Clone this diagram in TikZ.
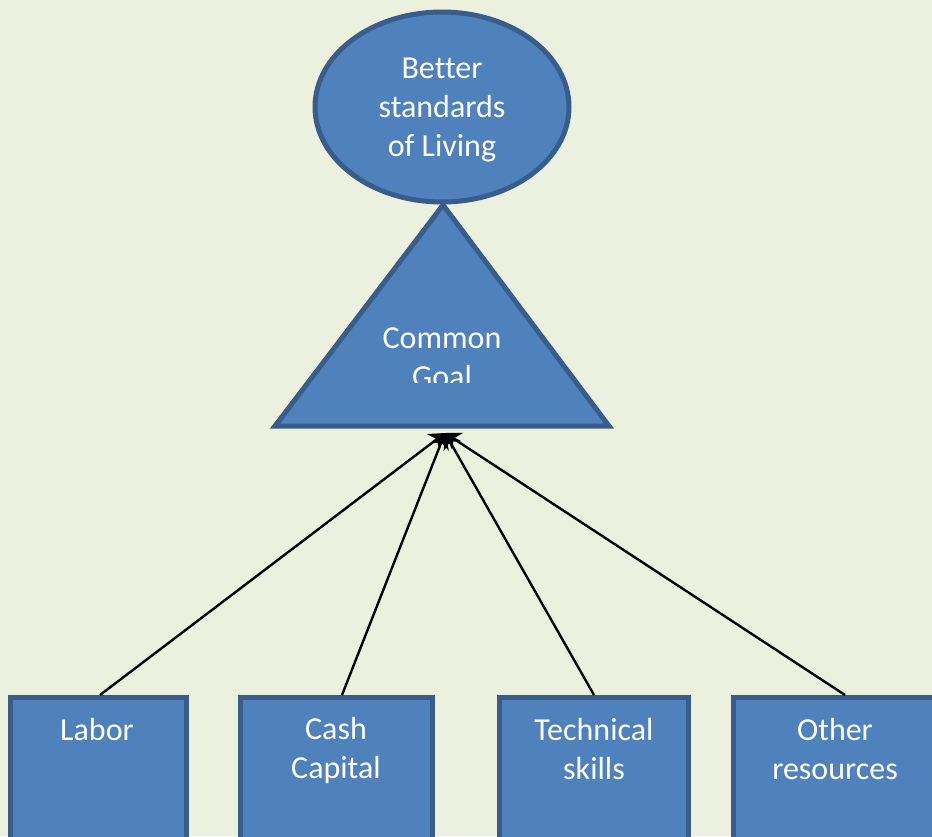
\documentclass[tikz,border=0pt]{standalone}
\usepackage{fontspec}
\setmainfont{Carlito}[Ligatures={NoCommon}]
\usetikzlibrary{arrows.meta}
\definecolor{bg}{HTML}{EBF1DE}
\definecolor{fillblue}{HTML}{4F81BD}
\definecolor{edgeblue}{HTML}{385D8A}
\begin{document}
\begin{tikzpicture}[x=1pt,y=-1pt,
  shapestyle/.style={fill=fillblue,draw=edgeblue,line width=5pt},
  boxstyle/.style={shapestyle,rectangle,inner sep=0pt,outer sep=0pt,anchor=north west},
  txt/.style={text=white,font=\fontsize{32}{39}\selectfont,align=center,inner sep=0pt},
  conn/.style={line width=2.4pt,-{Stealth[length=15pt,width=20pt]}}]
\path[use as bounding box] (0,0) rectangle (932,836);
\clip (0,0) rectangle (932,836);
\fill[bg] (0,0) rectangle (932,836);
% top ellipse
\draw[shapestyle] (442,107) ellipse [x radius=127,y radius=95];
\node[txt] (better) at (442,110) {Better\\standards\\of Living};
% triangle
\draw[shapestyle] (443,205) -- (609,426) -- (275,426) -- cycle;
\coordinate (goal) at (445,433);
\begin{scope}
\clip (280,300) rectangle (600,382);
\node[txt] (common) at (442,357.5) {Common\\Goal};
\end{scope}
% boxes
\node[boxstyle,minimum width=176pt,minimum height=200pt] (labor) at (10,697) {};
\node[boxstyle,minimum width=192pt,minimum height=200pt] (cash) at (240,697) {};
\node[boxstyle,minimum width=189pt,minimum height=200pt] (tech) at (499,697) {};
\node[boxstyle,minimum width=204pt,minimum height=200pt] (other) at (733,697) {};
\node[txt] (laborT) at (97,729) {Labor};
\node[txt] (cashT) at (336,750) {Cash\\Capital};
\node[txt] (techT) at (594,749) {Technical\\skills};
\node[txt] (otherT) at (835,749) {Other\\resources};
% connectors
\draw[conn] (100,695) coordinate (l0) -- (goal);
\draw[conn] (342,695) coordinate (c0) -- (goal);
\draw[conn] (594,695) coordinate (t0) -- (goal);
\draw[conn] (845,695) coordinate (o0) -- (goal);
\end{tikzpicture}
\end{document}
